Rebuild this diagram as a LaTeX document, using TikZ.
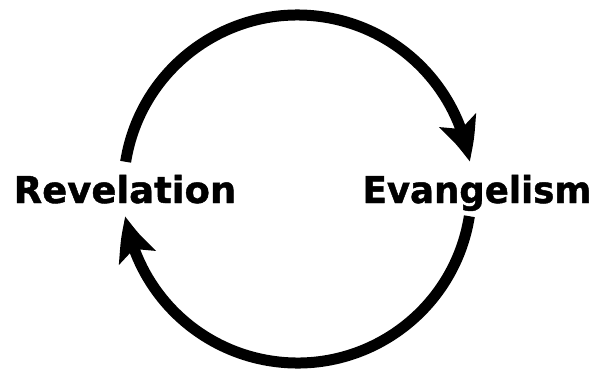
\documentclass[tikz,border=0pt]{standalone}
\usepackage{fontspec}
\setmainfont{DejaVu Sans}[BoldFeatures={FakeBold=1.2}]
\usetikzlibrary{arrows.meta,bending}
\begin{document}
\begin{tikzpicture}[x=1pt,y=1pt,
  cyc/.style={line width=11pt, -{Stealth[length=43pt,width=38pt,inset=9pt,bend]}},
  lbl/.style={font=\fontsize{37}{40}\selectfont\bfseries, inner sep=0pt, anchor=base}]
\useasboundingbox (0,0) rectangle (605,368);
\coordinate (c) at (297.5,179);
\node[lbl] (rev) at (125,165) {Revelation};
\node[lbl, xscale=0.96, transform shape] (eva) at (477,165) {Evangelism};
\coordinate (topstart) at ([shift={(171:174)}]c);
\coordinate (botstart) at ([shift={(-9:174)}]c);
\draw[cyc] (topstart) arc[start angle=171, end angle=9, radius=174];
\draw[cyc] (botstart) arc[start angle=-9, end angle=-171, radius=174];
\end{tikzpicture}
\end{document}
